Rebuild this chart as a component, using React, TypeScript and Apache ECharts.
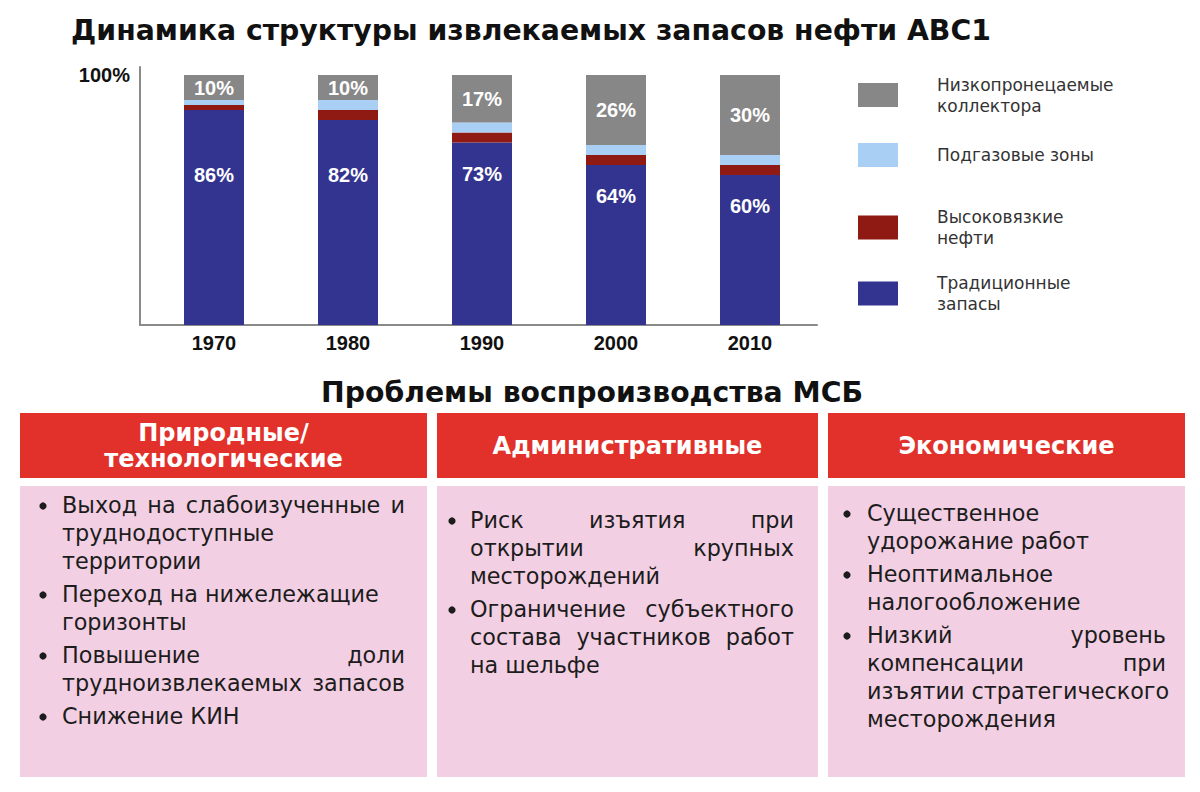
import React, { useEffect, useRef } from "react";
import * as echarts from "echarts";

// ---------- Data ----------
const categories = ["1970", "1980", "1990", "2000", "2010"];
const traditional = [86, 82, 73, 64, 60];
const highViscosity = [2, 4, 4, 4, 4];
const gasCap = [2, 4, 4, 4, 4];
const lowPermeability = [10, 10, 19, 28, 32];
const lowPermeabilityLabels = ["10%", "10%", "17%", "26%", "30%"];
const yTickLabel = "100%";

const seriesNames = [
  "Традиционные запасы",
  "Высоковязкие нефти",
  "Подгазовые зоны",
  "Низкопронецаемые коллектора",
];
const legendTexts = [
  "Низкопронецаемые\nколлектора",
  "Подгазовые зоны",
  "Высоковязкие\nнефти",
  "Традиционные\nзапасы",
];

const chartTitle = "Динамика структуры извлекаемых запасов нефти АВС1";
const sectionTitle = "Проблемы воспроизводства МСБ";
const columnHeaders = ["Природные/\nтехнологические", "Административные", "Экономические"];

const naturalItems = [
  ["Выход на слабоизученные и", "труднодоступные", "территории"],
  ["Переход на нижележащие", "горизонты"],
  ["Повышение доли", "трудноизвлекаемых запасов"],
  ["Снижение КИН"],
];
const adminItems = [
  ["Риск изъятия при", "открытии крупных", "месторождений"],
  ["Ограничение субъектного", "состава участников работ", "на шельфе"],
];
const economicItems = [
  ["Существенное", "удорожание работ"],
  ["Неоптимальное", "налогообложение"],
  ["Низкий уровень", "компенсации при", "изъятии стратегического", "месторождения"],
];
const justifiedLines = new Set([
  "Выход на слабоизученные и",
  "Повышение доли",
  "трудноизвлекаемых запасов",
  "Риск изъятия при",
  "открытии крупных",
  "Ограничение субъектного",
  "состава участников работ",
  "Низкий уровень",
  "компенсации при",
]);

// ---------- Styles / layout ----------
const COLORS = {
  traditional: "#33348f",
  viscous: "#8e1a13",
  gas: "#a9cff5",
  lowPerm: "#878787",
  header: "#e1312a",
  body: "#f3cfe3",
  axis: "#8a8a8a",
  text: "#1c1c1c",
};
const TRAD_LABEL_SHIFT = [34, 24, 0, 0, 0];
const SANS = '"DejaVu Sans", Verdana, sans-serif';
const ARIAL = '"Liberation Sans", Arial, sans-serif';
const BODY_SIZE = 22.3;
const LINE_H = 28;
const PARA_GAP = 5;

const boxes = [
  { x: 20, w: 407, textX: 62, right: 405, bulletX: 43, startY: 505, header: columnHeaders[0], items: naturalItems },
  { x: 437, w: 381, textX: 470, right: 794, bulletX: 452, startY: 520, header: columnHeaders[1], items: adminItems },
  { x: 828, w: 357, textX: 867, right: 1166, bulletX: 847, startY: 513, header: columnHeaders[2], items: economicItems },
];

let measureCtx: CanvasRenderingContext2D | null = null;
function measure(text: string, font: string): number {
  if (!measureCtx) measureCtx = document.createElement("canvas").getContext("2d");
  measureCtx!.font = font;
  return measureCtx!.measureText(text).width;
}

function bodyText(x: number, y: number, text: string) {
  return {
    type: "text",
    x,
    y,
    silent: true,
    style: {
      text,
      fontSize: BODY_SIZE,
      fontFamily: SANS,
      fill: COLORS.text,
      align: "left",
      verticalAlign: "middle",
    },
  };
}

function buildGraphics() {
  const els: any[] = [];
  els.push({
    type: "text",
    x: 531,
    y: 30,
    silent: true,
    style: { text: chartTitle, fontSize: 28.3, fontWeight: "bold", fontFamily: SANS, fill: "#111", align: "center", verticalAlign: "middle" },
  });
  els.push({
    type: "text",
    x: 592,
    y: 392,
    silent: true,
    style: { text: sectionTitle, fontSize: 28.3, fontWeight: "bold", fontFamily: SANS, fill: "#111", align: "center", verticalAlign: "middle" },
  });
  const font = `${BODY_SIZE}px ${SANS}`;
  boxes.forEach((b) => {
    els.push({ type: "rect", silent: true, shape: { x: b.x, y: 413, width: b.w, height: 65 }, style: { fill: COLORS.header } });
    els.push({ type: "rect", silent: true, shape: { x: b.x, y: 486, width: b.w, height: 291 }, style: { fill: COLORS.body } });
    els.push({
      type: "text",
      x: b.x + b.w / 2,
      y: 446,
      silent: true,
      style: { text: b.header, fontSize: 24, fontWeight: "bold", fontFamily: SANS, lineHeight: 26, fill: "#fff", align: "center", verticalAlign: "middle" },
    });
    let y = b.startY;
    b.items.forEach((para, pi) => {
      if (pi > 0) y += PARA_GAP;
      els.push({ type: "circle", silent: true, shape: { cx: b.bulletX, cy: y + 1, r: 3.6 }, style: { fill: COLORS.text } });
      para.forEach((line) => {
        const words = line.split(" ");
        if (justifiedLines.has(line) && words.length > 1) {
          const widths = words.map((w) => measure(w, font));
          const total = widths.reduce((a, c) => a + c, 0);
          const gap = Math.max(6, (b.right - b.textX - total) / (words.length - 1));
          let x = b.textX;
          words.forEach((w, wi) => {
            els.push(bodyText(x, y, w));
            x += widths[wi] + gap;
          });
        } else {
          els.push(bodyText(b.textX, y, line));
        }
        y += LINE_H;
      });
    });
  });
  return els;
}

const legendOrder = [3, 2, 1, 0];
const legendIconCenters = [95, 155, 227.5, 293.5];

export default function App() {
  const ref = useRef<HTMLDivElement>(null);
  useEffect(() => {
    if (!ref.current) return;
    const chart = echarts.init(ref.current, null, { renderer: "svg" });
    const whiteLabel = { color: "#fff", fontSize: 20, fontWeight: "bold", fontFamily: ARIAL };
    const option: any = {
      animation: false,
      backgroundColor: "#fff",
      grid: [
        { left: 147, top: 75, width: 670, height: 250 },
        { left: 140, top: 67, width: 677, height: 258 },
      ],
      xAxis: [
        {
          type: "category",
          gridIndex: 0,
          data: categories,
          axisLine: { show: false },
          axisTick: { show: false },
          axisLabel: { color: "#111", fontSize: 20, fontWeight: "bold", fontFamily: ARIAL, margin: 8 },
        },
        {
          type: "value",
          gridIndex: 1,
          min: 0,
          max: 1,
          axisLine: { show: true, lineStyle: { color: COLORS.axis, width: 2 } },
          axisTick: { show: false },
          axisLabel: { show: false },
          splitLine: { show: false },
        },
      ],
      yAxis: [
        { type: "value", gridIndex: 0, min: 0, max: 100, show: false },
        {
          type: "value",
          gridIndex: 1,
          min: 0,
          max: 103.2,
          interval: 100,
          axisLine: { show: true, lineStyle: { color: COLORS.axis, width: 2 } },
          axisTick: { show: false },
          splitLine: { show: false },
          axisLabel: {
            formatter: (v: number) => (v === 100 ? yTickLabel : ""),
            color: "#111",
            fontSize: 20,
            fontWeight: "bold",
            fontFamily: ARIAL,
            margin: 10,
          },
        },
      ],
      legend: legendOrder.map((si, li) => {
        const twoLines = legendTexts[li].includes("\n");
        return {
          data: [seriesNames[si]],
          orient: "vertical",
          left: 858,
          top: legendIconCenters[li] - (twoLines ? 21 : 12),
          padding: 0,
          itemWidth: 40,
          itemHeight: 24,
          icon: "rect",
          selectedMode: false,
          formatter: () => legendTexts[li],
          textStyle: { fontSize: 17, lineHeight: 21, color: "#333", fontFamily: SANS, padding: [0, 0, 0, 34] },
        };
      }),
      series: [
        {
          name: seriesNames[0],
          type: "bar",
          stack: "total",
          barWidth: 60,
          xAxisIndex: 0,
          yAxisIndex: 0,
          itemStyle: { color: COLORS.traditional },
          label: { show: true, position: "insideTop", distance: 21, formatter: "{c}%", ...whiteLabel },
          data: traditional.map((v, i) => ({ value: v, label: { offset: [0, TRAD_LABEL_SHIFT[i]] } })),
        },
        {
          name: seriesNames[1],
          type: "bar",
          stack: "total",
          barWidth: 60,
          xAxisIndex: 0,
          yAxisIndex: 0,
          itemStyle: { color: COLORS.viscous },
          data: highViscosity,
        },
        {
          name: seriesNames[2],
          type: "bar",
          stack: "total",
          barWidth: 60,
          xAxisIndex: 0,
          yAxisIndex: 0,
          itemStyle: { color: COLORS.gas },
          data: gasCap,
        },
        {
          name: seriesNames[3],
          type: "bar",
          stack: "total",
          barWidth: 60,
          xAxisIndex: 0,
          yAxisIndex: 0,
          itemStyle: { color: COLORS.lowPerm },
          label: {
            show: true,
            position: "inside",
            formatter: (p: any) => lowPermeabilityLabels[p.dataIndex],
            ...whiteLabel,
          },
          data: lowPermeability,
        },
      ],
      graphic: buildGraphics(),
    };
    chart.setOption(option);
    return () => chart.dispose();
  }, []);
  return (
    <div
      ref={ref}
      style={{ position: "absolute", left: 0, top: 0, width: 1200, height: 792, background: "#fff" }}
    />
  );
}
